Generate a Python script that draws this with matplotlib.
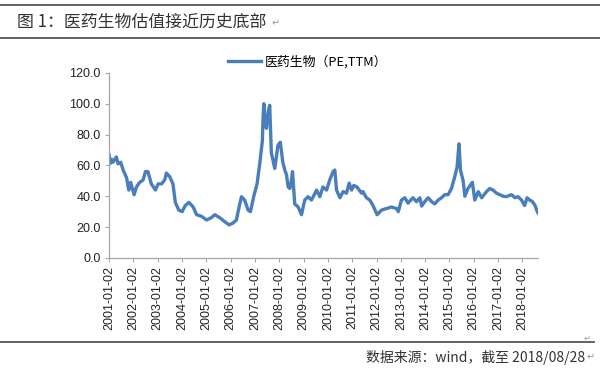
import matplotlib
matplotlib.use("Agg")
import matplotlib.pyplot as plt
import pandas as pd
from matplotlib.lines import Line2D

# 医药生物 PE(TTM)
dates = [
    "2001-01-02", "2001-01-12", "2001-02-06", "2001-02-27", "2001-04-20", "2001-05-15",
    "2001-06-24", "2001-07-31", "2001-09-20", "2001-10-23", "2001-11-21",
    "2002-01-11", "2002-02-16", "2002-04-05", "2002-05-26", "2002-07-01", "2002-08-07",
    "2002-09-27", "2002-11-28",
    "2003-01-07", "2003-02-27", "2003-04-16", "2003-05-11", "2003-07-01", "2003-08-18",
    "2003-09-23", "2003-11-14",
    "2004-01-02", "2004-02-20", "2004-04-15", "2004-06-17", "2004-08-07", "2004-10-19",
    "2005-01-04", "2005-03-14", "2005-05-08", "2005-07-23", "2005-10-04", "2005-12-09",
    "2006-02-05", "2006-03-29", "2006-05-08", "2006-06-13", "2006-07-31", "2006-09-20",
    "2006-10-26", "2006-12-13",
    "2007-02-02", "2007-03-14", "2007-04-23", "2007-05-04", "2007-05-15", "2007-06-02",
    "2007-06-24", "2007-07-20", "2007-08-11", "2007-09-05", "2007-10-26", "2007-12-13",
    "2008-01-18", "2008-02-24", "2008-03-25", "2008-04-19", "2008-05-14", "2008-06-09",
    "2008-07-01", "2008-07-19", "2008-08-21", "2008-10-11", "2008-12-01",
    "2009-01-18", "2009-03-10", "2009-04-30", "2009-07-16", "2009-09-02", "2009-10-19",
    "2009-12-13",
    "2010-01-29", "2010-03-21", "2010-04-16", "2010-05-11", "2010-07-02", "2010-08-18",
    "2010-10-08", "2010-11-17", "2010-12-24",
    "2011-01-26", "2011-03-14", "2011-05-22", "2011-06-13", "2011-08-03", "2011-09-23",
    "2011-11-10",
    "2012-01-11", "2012-03-17", "2012-06-01", "2012-08-13", "2012-10-29", "2012-11-24",
    "2013-01-11", "2013-03-03", "2013-04-20", "2013-07-02", "2013-08-25", "2013-10-15",
    "2013-11-10", "2013-12-27",
    "2014-02-16", "2014-04-09", "2014-05-26", "2014-07-16", "2014-09-05", "2014-10-23",
    "2014-12-13",
    "2015-02-02", "2015-03-25", "2015-04-27", "2015-05-26", "2015-06-17", "2015-07-27",
    "2015-08-22", "2015-10-08", "2015-12-13",
    "2016-01-18", "2016-03-10", "2016-04-30", "2016-07-12", "2016-08-29", "2016-10-19",
    "2016-12-09",
    "2017-01-29", "2017-03-18", "2017-05-08", "2017-07-23", "2017-09-13", "2017-10-30",
    "2017-12-20",
    "2018-02-05", "2018-03-14", "2018-04-23", "2018-06-02", "2018-07-12", "2018-08-14",
    "2018-08-28",
]
pe = [
    66.7, 61, 64, 62, 65.5, 61,
    62, 57, 52, 44, 49,
    41, 46, 49, 50.5, 56, 56,
    48, 44,
    48, 48, 50.5, 55, 52.6, 48,
    36, 31,
    30, 34, 36, 33, 28, 27,
    24.6, 26, 28, 26, 23.5, 21.4,
    22.6, 24.6, 33, 39.7, 37.5, 31,
    30, 39.7,
    48, 61, 76, 92, 100, 88,
    84, 95, 99, 68, 58, 73,
    75, 62, 57, 54, 46, 45,
    50, 56, 35, 33, 28,
    37.5, 39.7, 37.5, 44, 39.7, 46,
    44,
    50.5, 56, 57, 44, 39, 43,
    42, 48.5, 44,
    47, 46, 42, 43, 39, 37.5,
    34,
    28, 31, 32, 33, 32, 30,
    37.5, 39, 35.5, 39, 36.5, 39,
    33.6, 36.5,
    39, 36.5, 35, 37.5, 39, 41,
    41,
    45, 53, 59, 74, 57, 50,
    40, 45, 49,
    37.5, 43, 39, 43, 45, 44,
    42,
    41, 40, 39.7, 41, 39, 39.7,
    37.5,
    34, 39, 37.5, 36.5, 34, 30,
    29,
]
tick_labels = [f"{y}-01-02" for y in range(2001, 2019)]
y_ticks = [0, 20, 40, 60, 80, 100, 120]

cjk = ["Noto Sans CJK SC", "DejaVu Sans"]
line_color = "#4A7EBB"

x = pd.to_datetime(dates)

fig = plt.figure(figsize=(6, 3.7), dpi=100)
ax = fig.add_axes([0.182, 0.303, 0.715, 0.5])
ax.plot(x, pe, color=line_color, lw=2.4, solid_joinstyle="round")

ax.set_xlim(x[0], x[-1])
ax.set_ylim(0, 120)
ax.set_yticks(y_ticks)
ax.set_yticklabels([f"{v:.1f}" for v in y_ticks], fontsize=9,
                   family="Liberation Sans", color="#222222")
ax.set_xticks(pd.to_datetime(tick_labels))
ax.set_xticklabels(tick_labels, rotation=90, fontsize=9,
                   family="Liberation Sans", color="#222222")
ax.tick_params(axis="both", length=3, color="#a6a6a6", width=0.8, pad=3)

for s in ["top", "right"]:
    ax.spines[s].set_visible(False)
for s in ["left", "bottom"]:
    ax.spines[s].set_color("#a6a6a6")
    ax.spines[s].set_linewidth(0.9)

# legend above the plot
handle = Line2D([], [], color=line_color, lw=2.4)
fig.legend([handle], ["医药生物（PE,TTM）"], loc="center",
           bbox_to_anchor=(0.512, 0.832), frameon=False, handlelength=2.6,
           handletextpad=0.25, prop={"family": cjk, "size": 9.3})

# document framing lines and captions
for yy in [0.986, 0.897]:
    fig.add_artist(Line2D([0, 1], [yy, yy], color="#555555", lw=1.3))
fig.add_artist(Line2D([0, 0.99], [0.076, 0.076], color="#555555", lw=1.3))

fig.text(0.028, 0.941, "图 1：医药生物估值接近历史底部", fontsize=12.2,
         family=cjk, color="#333333", va="center")
fig.text(0.452, 0.936, "↵", fontsize=7, family=cjk, color="#999999", va="center")
fig.text(0.975, 0.035, "数据来源：wind，截至 2018/08/28", fontsize=10,
         family=cjk, color="#333333", va="center", ha="right")
fig.text(0.977, 0.035, "↵", fontsize=7, family=cjk, color="#999999", va="center")
fig.text(0.972, 0.085, "↵", fontsize=6, family=cjk, color="#999999", va="center")

fig.savefig("out.png", dpi=100)
